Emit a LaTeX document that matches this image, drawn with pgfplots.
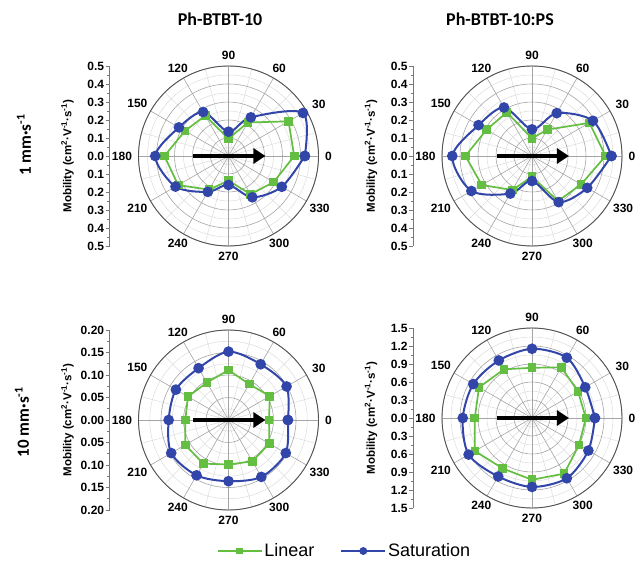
\documentclass[border=0pt]{standalone}
\usepackage{pgfplots}
\pgfplotsset{compat=1.18}
\usepackage{fontspec}
\setmainfont{Liberation Sans}
\newfontfamily\calib{Carlito}
\usetikzlibrary{arrows.meta}
\definecolor{cgreen}{RGB}{100,190,65}
\definecolor{cblue}{RGB}{50,70,170}
\definecolor{gmaj}{RGB}{165,165,165}
\definecolor{gmin}{RGB}{220,220,220}
\definecolor{gaxis}{RGB}{120,120,120}

\newcommand{\polargrid}[3]{%
  \pgfplotsinvokeforeach{15,45,...,345}{\draw[gmin, line width=0.5pt] (axis cs:0,0) -- (axis cs:{#1*cos(##1)},{#1*sin(##1)});}
  \pgfplotsinvokeforeach{1,...,#3}{\draw[gmin, line width=0.5pt] (axis cs:0,0) circle[radius={#2*(##1-0.5)}];}
  \pgfplotsinvokeforeach{0,30,...,330}{\draw[gmaj, line width=0.6pt] (axis cs:0,0) -- (axis cs:{#1*cos(##1)},{#1*sin(##1)});}
  \pgfplotsinvokeforeach{1,...,#3}{\draw[gmaj, line width=0.6pt] (axis cs:0,0) circle[radius={#2*##1}];}
  \draw[gaxis!70!black, line width=0.9pt] (axis cs:0,0) circle[radius=#1];
  \draw[line width=4pt, -{Triangle[length=12pt,width=15pt]}] (axis cs:{-0.39*#1},0) -- (axis cs:{0.41*#1},0);
}
\newcommand{\alab}[3]{\node[anchor=#3, inner sep=0pt, font=\bfseries\fontsize{12}{13}\selectfont] at (axis cs:{1.07*#1*cos(#2)},{1.07*#1*sin(#2)}) {#2};}
\newcommand{\anglabels}[1]{\alab{#1}{0}{180}\alab{#1}{30}{210}\alab{#1}{60}{240}\alab{#1}{90}{270}\alab{#1}{120}{300}\alab{#1}{150}{330}\alab{#1}{180}{0}\alab{#1}{210}{30}\alab{#1}{240}{60}\alab{#1}{270}{90}\alab{#1}{300}{120}\alab{#1}{330}{150}}

\pgfplotsset{
  polarpanel/.style={scale only axis, width=180pt, height=180pt, anchor=center, hide axis, clip=false},
  satur/.style={color=cblue, line width=2pt, mark=*, mark size=4.3pt, smooth, tension=0.5, data cs=polar, mark options={solid}},
  lin/.style={color=cgreen, line width=1.7pt, mark=square*, mark size=3.5pt, data cs=polar, mark options={solid}},
  leftaxis/.style={scale only axis, width=10pt, height=180pt, anchor=west, xmin=0, xmax=1,
    axis x line=none, axis y line=left, xtick=\empty,
    y axis line style={-, gaxis, line width=0.7pt},
    tick align=outside, major tick length=4pt, minor tick length=2.5pt, minor y tick num=1,
    every tick/.style={gaxis, line width=0.7pt},
    yticklabel style={font=\bfseries\fontsize{12}{13}\selectfont, inner sep=1.2pt},
    ylabel={Mobility (cm\textsuperscript{2}·V\textsuperscript{-1}·s\textsuperscript{-1})},
    every axis y label/.style={at={(axis description cs:-4.2,0.5)}, rotate=90, anchor=center, font=\bfseries\fontsize{11.5}{12}\selectfont}},
}

\begin{document}
\begin{tikzpicture}
\path[use as bounding box] (0pt,0pt) rectangle (636pt,560pt);

% ---------- top-left: Ph-BTBT-10, 1 mm/s
\begin{axis}[polarpanel, at={(228.5pt,404pt)}, xmin=-0.5, xmax=0.5, ymin=-0.5, ymax=0.5]
\polargrid{0.5}{0.1}{5}
\addplot[lin] coordinates {(0,0.365) (30,0.385) (60,0.215) (90,0.096) (120,0.259) (150,0.279) (180,0.356) (210,0.323) (240,0.216) (270,0.137) (300,0.245) (330,0.29) (360,0.365)};
\addplot[satur] coordinates {(0,0.424) (30,0.478) (60,0.248) (90,0.135) (120,0.282) (150,0.318) (180,0.407) (210,0.34) (240,0.23) (270,0.161) (300,0.265) (330,0.342) (360,0.424)};
\anglabels{0.5}
\end{axis}
\begin{axis}[leftaxis, at={(109.5pt,404pt)}, ymin=-0.5, ymax=0.5,
  ytick={-0.5,-0.4,-0.3,-0.2,-0.1,0,0.1,0.2,0.3,0.4,0.5},
  yticklabels={0.5,0.4,0.3,0.2,0.1,0.0,0.1,0.2,0.3,0.4,0.5}]
\end{axis}

% ---------- top-right: Ph-BTBT-10:PS, 1 mm/s
\begin{axis}[polarpanel, at={(532pt,404pt)}, xmin=-0.5, xmax=0.5, ymin=-0.5, ymax=0.5]
\polargrid{0.5}{0.1}{5}
\addplot[lin] coordinates {(0,0.409) (30,0.368) (60,0.169) (90,0.098) (120,0.28) (150,0.292) (180,0.37) (210,0.322) (240,0.218) (270,0.115) (300,0.289) (330,0.315) (360,0.409)};
\addplot[satur] coordinates {(0,0.441) (30,0.391) (60,0.275) (90,0.148) (120,0.311) (150,0.343) (180,0.443) (210,0.389) (240,0.241) (270,0.139) (300,0.296) (330,0.354) (360,0.441)};
\anglabels{0.5}
\end{axis}
\begin{axis}[leftaxis, at={(413pt,404pt)}, ymin=-0.5, ymax=0.5,
  ytick={-0.5,-0.4,-0.3,-0.2,-0.1,0,0.1,0.2,0.3,0.4,0.5},
  yticklabels={0.5,0.4,0.3,0.2,0.1,0.0,0.1,0.2,0.3,0.4,0.5}]
\end{axis}

% ---------- bottom-left: Ph-BTBT-10, 10 mm/s
\begin{axis}[polarpanel, at={(228.5pt,140pt)}, xmin=-0.2, xmax=0.2, ymin=-0.2, ymax=0.2]
\polargrid{0.2}{0.05}{4}
\addplot[lin] coordinates {(0,0.09) (30,0.106) (60,0.092) (90,0.111) (120,0.096) (150,0.104) (180,0.096) (210,0.111) (240,0.112) (270,0.099) (300,0.106) (330,0.105) (360,0.09)};
\addplot[satur] coordinates {(0,0.132) (30,0.149) (60,0.143) (90,0.152) (120,0.133) (150,0.135) (180,0.133) (210,0.147) (240,0.142) (270,0.136) (300,0.146) (330,0.147) (360,0.132)};
\anglabels{0.2}
\end{axis}
\begin{axis}[leftaxis, at={(109.5pt,140pt)}, ymin=-0.2, ymax=0.2,
  ytick={-0.2,-0.15,-0.1,-0.05,0,0.05,0.1,0.15,0.2},
  yticklabels={0.20,0.15,0.10,0.05,0.00,0.05,0.10,0.15,0.20}]
\end{axis}

% ---------- bottom-right: Ph-BTBT-10:PS, 10 mm/s
\begin{axis}[polarpanel, at={(532pt,142pt)}, xmin=-1.5, xmax=1.5, ymin=-1.5, ymax=1.5]
\polargrid{1.5}{0.3}{5}
\addplot[lin] coordinates {(0,0.898) (30,0.885) (60,0.976) (90,0.837) (120,0.937) (150,1.02) (180,0.954) (210,1.1) (240,0.972) (270,1.03) (300,1.07) (330,0.904) (360,0.898)};
\addplot[satur] coordinates {(0,1.048) (30,1.024) (60,1.16) (90,1.154) (120,1.107) (150,1.13) (180,1.154) (210,1.22) (240,1.126) (270,1.149) (300,1.16) (330,1.085) (360,1.048)};
\anglabels{1.5}
\end{axis}
\begin{axis}[leftaxis, at={(413pt,142pt)}, ymin=-1.5, ymax=1.5,
  ytick={-1.5,-1.2,-0.9,-0.6,-0.3,0,0.3,0.6,0.9,1.2,1.5},
  yticklabels={1.5,1.2,0.9,0.6,0.3,0.0,0.3,0.6,0.9,1.2,1.5}]
\end{axis}

% ---------- titles and row labels
\node[font=\calib\bfseries\fontsize{18}{20}\selectfont] at (220pt,541pt) {Ph-BTBT-10};
\node[font=\calib\bfseries\fontsize{18}{20}\selectfont] at (500pt,541pt) {Ph-BTBT-10:PS};
\node[rotate=90, font=\calib\bfseries\fontsize{17}{19}\selectfont] at (24pt,415pt) {1 mm·s\textsuperscript{-1}};
\node[rotate=90, font=\calib\bfseries\fontsize{17}{19}\selectfont] at (22pt,138pt) {10 mm·s\textsuperscript{-1}};

% ---------- legend
\begin{axis}[at={(344.5pt,9pt)}, anchor=center, scale only axis, width=1pt, height=1pt, hide axis,
  xmin=0, xmax=1, ymin=0, ymax=1, legend columns=2,
  legend style={at={(0.5,0.5)}, anchor=center, draw=none, fill=none, inner sep=0pt,
    font=\fontsize{18}{20}\selectfont, /tikz/every even column/.append style={column sep=24pt}},
  legend image code/.code={\draw[mark repeat=2, mark phase=2, #1] plot coordinates {(0pt,0pt) (22pt,0pt) (44pt,0pt)};}]
\addlegendimage{cgreen, line width=1.6pt, mark=square*, mark size=2.6pt}
\addlegendentry{Linear}
\addlegendimage{cblue, line width=1.8pt, mark=*, mark size=3pt}
\addlegendentry{Saturation}
\end{axis}
\end{tikzpicture}
\end{document}
